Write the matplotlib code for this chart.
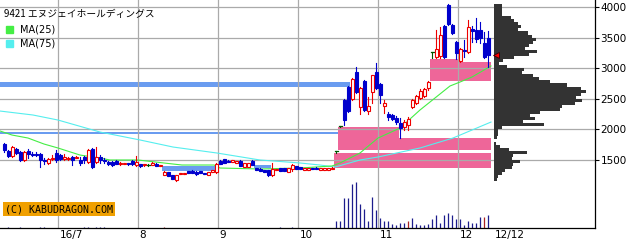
import matplotlib
matplotlib.use('Agg')
import matplotlib.pyplot as plt
import matplotlib.patches as patches

plt.rcParams['font.family'] = ['Noto Sans CJK JP', 'DejaVu Sans']

title = '9421 エヌジェイホールディングス'

# daily candles, index 0 = mid June 2016, last = 12/12
opens = [1761, 1647, 1565, 1679, 1630, 1500, 1647, 1598, 1598, 1598,
         1500, 1451, 1516, 1614, 1581, 1516, 1516, 1549, 1532, 1500,
         1549, 1467, 1679, 1467, 1549, 1500, 1467, 1467, 1483, 1434,
         1434, 1451, 1483, 1418, 1434, 1415, 1418, 1418, 1434, 1402,
         1255, 1304, 1255, 1173, 1271, 1271, 1320, 1320, 1304, 1320,
         1287, 1255, 1304, 1304, 1483, 1516, 1483, 1467, 1451, 1483,
         1385, 1385, 1483, 1369, 1353, 1336, 1336, 1255, 1336, 1369,
         1369, 1304, 1353, 1402, 1385, 1336, 1336, 1369, 1369, 1336,
         1336, 1336, 1353, 1647, 2055, 2480, 2692, 2496, 2938, 2366,
         2790, 2300, 2611, 2938, 2741, 2382, 2251, 2235, 2186, 2104,
         2039, 2072, 2366, 2431, 2513, 2545, 2676, 3264, 3183, 3199,
         3689, 4033, 3706, 3428, 3117, 3297, 3264, 3640, 3624, 3624,
         3411, 3493]
highs = [1777, 1663, 1728, 1696, 1647, 1647, 1679, 1630, 1630, 1614,
         1532, 1532, 1581, 1663, 1598, 1598, 1549, 1565, 1565, 1549,
         1565, 1679, 1696, 1712, 1581, 1532, 1483, 1483, 1500, 1467,
         1455, 1455, 1500, 1565, 1440, 1440, 1434, 1467, 1451, 1418,
         1320, 1310, 1260, 1255, 1290, 1290, 1325, 1336, 1320, 1325,
         1290, 1304, 1336, 1451, 1500, 1520, 1500, 1505, 1483, 1500,
         1451, 1451, 1500, 1369, 1369, 1340, 1340, 1451, 1353, 1375,
         1375, 1369, 1434, 1405, 1390, 1369, 1369, 1375, 1385, 1369,
         1369, 1369, 1385, 1647, 2055, 2496, 2709, 2839, 3019, 2692,
         2807, 2529, 2888, 3085, 2758, 2480, 2284, 2251, 2219, 2186,
         2153, 2202, 2496, 2562, 2660, 2676, 2790, 3264, 3624, 3673,
         3706, 4049, 3722, 3444, 3330, 3460, 3787, 3689, 3820, 3755,
         3591, 3607]
lows = [1630, 1549, 1549, 1598, 1483, 1483, 1532, 1565, 1565, 1385,
        1434, 1434, 1500, 1467, 1500, 1500, 1500, 1418, 1532, 1418,
        1451, 1451, 1369, 1451, 1451, 1451, 1418, 1402, 1434, 1418,
        1434, 1418, 1418, 1402, 1385, 1410, 1402, 1418, 1402, 1402,
        1255, 1238, 1189, 1157, 1271, 1271, 1287, 1287, 1255, 1287,
        1271, 1255, 1304, 1287, 1434, 1451, 1467, 1467, 1451, 1402,
        1385, 1385, 1418, 1336, 1320, 1304, 1238, 1238, 1336, 1320,
        1320, 1304, 1320, 1353, 1353, 1336, 1336, 1353, 1353, 1336,
        1336, 1336, 1353, 1614, 2039, 2072, 2284, 2480, 2594, 2251,
        2300, 2251, 2431, 2660, 2431, 2268, 2153, 2153, 2088, 1859,
        1990, 1990, 2349, 2415, 2496, 2529, 2643, 3166, 3166, 3166,
        3166, 3706, 3558, 3150, 3101, 3183, 3248, 3428, 3428, 3411,
        3166, 3019]
closes = [1663, 1565, 1712, 1614, 1500, 1630, 1598, 1581, 1581, 1500,
          1483, 1516, 1532, 1500, 1516, 1549, 1532, 1500, 1549, 1451,
          1500, 1663, 1385, 1549, 1500, 1483, 1434, 1418, 1440, 1451,
          1451, 1434, 1434, 1467, 1402, 1435, 1418, 1451, 1402, 1418,
          1304, 1238, 1189, 1255, 1287, 1287, 1287, 1287, 1271, 1287,
          1271, 1304, 1336, 1434, 1434, 1451, 1467, 1500, 1483, 1402,
          1451, 1451, 1418, 1336, 1320, 1304, 1255, 1353, 1353, 1320,
          1320, 1369, 1418, 1353, 1353, 1369, 1369, 1353, 1353, 1369,
          1369, 1369, 1369, 1647, 2055, 2153, 2300, 2823, 2611, 2676,
          2317, 2382, 2888, 2676, 2562, 2431, 2202, 2170, 2120, 2022,
          2120, 2170, 2480, 2545, 2627, 2660, 2774, 3264, 3313, 3542,
          3183, 3722, 3575, 3248, 3313, 3281, 3673, 3607, 3477, 3493,
          3183, 3215]
volumes = [8, 25, 8, 8, 25, 8, 8, 8, 8, 25,
           25, 8, 8, 8, 8, 8, 8, 8, 8, 8,
           25, 25, 8, 25, 25, 25, 8, 8, 8, 8,
           8, 8, 8, 8, 8, 8, 8, 8, 8, 8,
           15, 8, 8, 8, 8, 8, 8, 8, 8, 8,
           8, 8, 8, 8, 8, 8, 8, 8, 8, 8,
           8, 8, 8, 8, 8, 8, 8, 8, 8, 25,
           8, 8, 25, 8, 8, 8, 8, 8, 8, 8,
           8, 8, 8, 140, 140, 600, 600, 880, 920, 480,
           380, 140, 620, 360, 200, 140, 140, 80, 60, 100,
           100, 140, 200, 80, 60, 60, 80, 180, 260, 100,
           260, 300, 260, 180, 180, 60, 140, 100, 100, 220,
           220, 260]
vol_red = [40, 101, 120]

month_pos = [13.5, 33.5, 53.5, 73.5, 93.5, 113.5]
month_labels = ['16/7', '8', '9', '10', '11', '12']
last_date = '12/12'

ma25_x = [-1, 2, 6, 10, 13.5, 19, 24, 26.5, 33.5, 40, 44.5, 52.5, 54, 64,
          74, 82, 84, 89, 93.5, 99, 104, 111.5, 114, 117, 121.75]
ma25 = [1974, 1908, 1859, 1761, 1696, 1581, 1532, 1500, 1500, 1451, 1418,
        1418, 1369, 1353, 1369, 1402, 1451, 1614, 1859, 2022, 2317, 2709,
        2774, 2856, 3036]
ma75_x = [-1, 7.25, 13.5, 24, 34, 42.25, 53.25, 64, 74, 79, 82.75, 89,
          93.5, 104, 112.25, 121.75]
ma75 = [2300, 2235, 2153, 1957, 1827, 1712, 1614, 1500, 1451, 1418, 1385,
        1500, 1549, 1696, 1859, 2120]

# open price gaps (窓): start, end, low, high
up_gaps = [(82.6, 121.75, 1369, 1614), (83.6, 98.75, 1663, 2039),
           (98.75, 121.75, 1663, 1859), (106.6, 113.5, 2790, 3150),
           (113.5, 121.75, 2790, 3101)]
down_gaps = [(-1, 86.5, 2692, 2774), (-1, 83.5, 1925, 1957),
             (39.6, 53, 1320, 1402), (62.6, 66.75, 1369, 1418)]

# price band volume
vp_price = [1175, 1225, 1275, 1325, 1375, 1425, 1475, 1525, 1575, 1625,
            1675, 1725, 1775, 1825, 1875, 1925, 1975, 2025, 2075, 2125,
            2175, 2225, 2275, 2325, 2375, 2425, 2475, 2525, 2575, 2625,
            2675, 2725, 2775, 2825, 2875, 2925, 2975, 3025, 3075, 3125,
            3175, 3225, 3275, 3325, 3375, 3425, 3475, 3525, 3575, 3625,
            3675, 3725, 3775, 3825, 3875, 3925, 3975, 4025]
vp_vol = [3, 4, 8, 11, 18, 19, 26, 18, 19, 33,
          15, 6, 2, 0, 3, 4, 4, 8, 50, 29,
          41, 36, 46, 66, 68, 81, 88, 82, 87, 92,
          87, 73, 56, 45, 39, 28, 30, 13, 5, 9,
          20, 35, 43, 31, 35, 39, 42, 38, 34, 24,
          27, 24, 20, 17, 8, 8, 8, 8]

W, H = 640, 241
fig = plt.figure(figsize=(W / 100, H / 100), dpi=100)
rect = [0, (H - 228) / H, 595 / W, 228 / H]
ax = fig.add_axes(rect)
axv = fig.add_axes(rect, frameon=False)
axv.set_zorder(ax.get_zorder() - 1)
ax.patch.set_visible(False)

xlim = (-1, 147.75)
ax.set_xlim(*xlim)
ax.set_ylim(389, 4114)

# grid
for p in [1500, 2000, 2500, 3000, 3500, 4000]:
    ax.axhline(p, color='#aaaaaa', lw=0.9, zorder=1.5)
for m in month_pos:
    ax.axvline(m, color='#aaaaaa', lw=0.9, zorder=1.5)

for s, e, lo, hi in up_gaps:
    ax.add_patch(patches.Rectangle((s, lo), e - s, hi - lo,
                                   facecolor='#ee6699', edgecolor='none', zorder=1))
for s, e, lo, hi in down_gaps:
    ax.add_patch(patches.Rectangle((s, lo), e - s, hi - lo,
                                   facecolor='#6a9cf0', edgecolor='none', zorder=1))

ax.plot(ma75_x, ma75, color='#55eeee', lw=0.8, zorder=2)
ax.plot(ma25_x, ma25, color='#44ee44', lw=0.8, zorder=2)

bw = 0.75
for i in range(len(opens)):
    o, h, l, c = opens[i], highs[i], lows[i], closes[i]
    if c > o:
        col = '#ee0000'
    elif c < o:
        col = '#0000cc'
    else:
        col = '#005500'
    ax.plot([i, i], [l, h], color=col, lw=0.8, zorder=3)
    if c == o:
        ax.plot([i - bw / 2, i + bw / 2], [o, o], color=col, lw=0.9, zorder=4)
    elif c > o:
        ax.add_patch(patches.Rectangle((i - bw / 2, o), bw, c - o, facecolor='white',
                                       edgecolor=col, lw=0.8, zorder=4))
    else:
        ax.add_patch(patches.Rectangle((i - bw / 2, c), bw, o - c, facecolor=col,
                                       edgecolor=col, lw=0.8, zorder=4))

# price band volume on the right
ax.barh(vp_price, [v * 0.25 for v in vp_vol], height=50, left=122.5,
        color='#333333', zorder=2.5)
ax.plot(122.9, closes[-1], marker='<', ms=5, mfc='#ff0000', mec='#330000',
        mew=0.6, zorder=6, clip_on=False)

# volume
axv.set_xlim(*xlim)
axv.set_ylim(0, max(volumes) * 228 / 46)
vcols = ['#aa2222' if i in vol_red else '#1c1c8c' for i in range(len(volumes))]
axv.vlines(range(len(volumes)), 0, volumes, colors=vcols, lw=0.9)
axv.set_xticks([])
axv.set_yticks([])

for side in ['top', 'left']:
    ax.spines[side].set_visible(False)
ax.spines['right'].set_linewidth(0.9)
ax.spines['bottom'].set_linewidth(0.9)
ax.yaxis.tick_right()
ax.set_yticks([1500, 2000, 2500, 3000, 3500, 4000])
ax.set_yticklabels(['1500', '2000', '2500', '3000', '3500', '4000'],
                   fontsize=7.5, family='DejaVu Sans')
ax.tick_params(axis='y', length=3, width=0.8, pad=1)
ax.set_xticks([])
xt = ax.get_xaxis_transform()
for m, lab in zip(month_pos, month_labels):
    ax.text(m + 0.4, -0.031, lab, transform=xt, ha='left', va='center',
            fontsize=7.5, family='DejaVu Sans')
ax.text(122.7, -0.031, last_date, transform=xt, ha='left', va='center',
        fontsize=7.5, family='DejaVu Sans')

# legend block
fig.text(4 / W, 1 - 14 / H, title, fontsize=7, va='center', ha='left')
fig.add_artist(patches.Rectangle((6 / W, 1 - 33 / H), 7 / W, 7 / H,
                                 transform=fig.transFigure, color='#44ee44'))
fig.add_artist(patches.Rectangle((6 / W, 1 - 47 / H), 7 / W, 7 / H,
                                 transform=fig.transFigure, color='#55eeee'))
fig.text(20 / W, 1 - 30 / H, 'MA(25)', fontsize=7, va='center', family='DejaVu Sans')
fig.text(20 / W, 1 - 44 / H, 'MA(75)', fontsize=7, va='center', family='DejaVu Sans')

fig.text(5 / W, 1 - 209 / H, '(C) KABUDRAGON.COM', fontsize=7.2,
         family='DejaVu Sans Mono', va='center', ha='left',
         bbox=dict(facecolor='#f0a000', edgecolor='none', pad=1.2))

fig.savefig('out.png', dpi=100)
